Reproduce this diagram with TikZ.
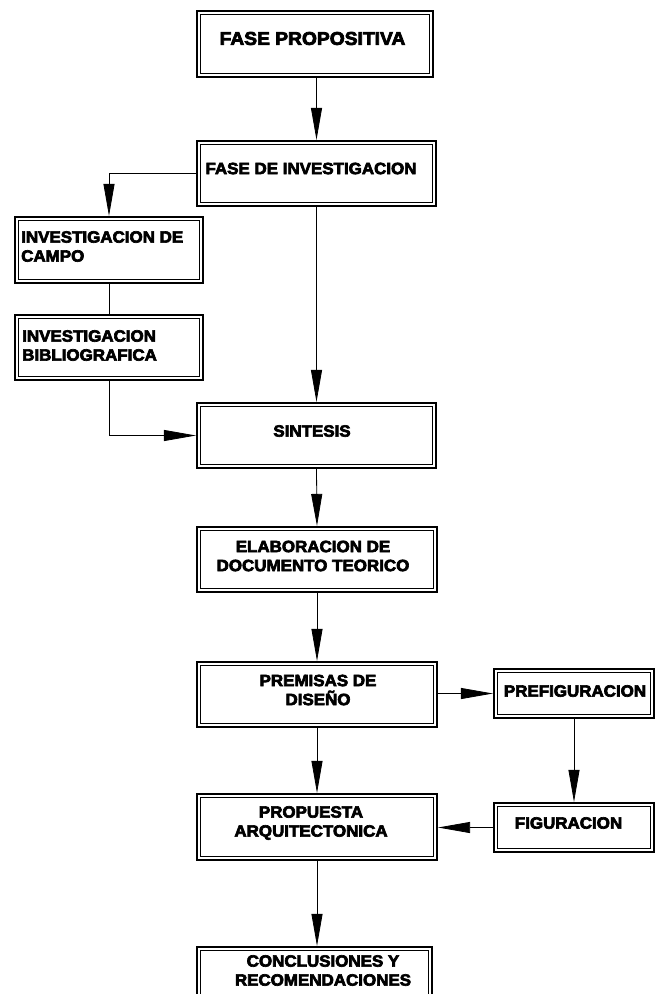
\documentclass[tikz,border=0pt]{standalone}
\usepackage{fontspec}
\setmainfont{Liberation Sans}[BoldFeatures={FakeBold=4}, FakeStretch=1.04]
\usetikzlibrary{arrows.meta,calc}
\tikzset{
  box/.style={draw, line width=1.1pt, inner sep=0pt},
  innerline/.style={line width=0.9pt},
  lbl/.style={font=\bfseries\fontsize{16.3}{19}\selectfont, inner sep=0pt},
  conn/.style={line width=0.8pt},
  arr/.style={conn, -{Triangle[length=32pt,width=11pt]}, shorten >=0.5pt}
}
\newcommand{\dblbox}[1]{\draw[innerline] ($(#1.south west)+(4,-4)$) rectangle ($(#1.north east)+(-4,4)$);}
\begin{document}
\begin{tikzpicture}[x=1pt,y=-1pt]
\useasboundingbox (0,0) rectangle (659,994);
% boxes
\node[box, minimum width=236pt, minimum height=66pt] (fp) at (315,44) {};
\node[box, minimum width=239pt, minimum height=65pt] (fdi) at (316.5,173.5) {};
\node[box, minimum width=188pt, minimum height=66pt] (campo) at (109,250) {};
\node[box, minimum width=188pt, minimum height=65pt] (biblio) at (109,347.5) {};
\node[box, minimum width=239pt, minimum height=65pt] (sint) at (316.5,435.5) {};
\node[box, minimum width=240pt, minimum height=65pt] (elab) at (317,559.5) {};
\node[box, minimum width=240pt, minimum height=65pt] (prem) at (317,694.5) {};
\node[box, minimum width=160pt, minimum height=49pt] (pref) at (574,693.5) {};
\node[box, minimum width=160pt, minimum height=49pt] (fig) at (574,827.5) {};
\node[box, minimum width=240pt, minimum height=66pt] (prop) at (317,827) {};
\node[box, minimum width=235pt, minimum height=66pt] (conc) at (314.5,980) {};
\foreach \n in {fp,fdi,campo,biblio,sint,elab,prem,pref,fig,prop,conc}{\dblbox{\n}}
% labels
\node[lbl, font=\bfseries\fontsize{18.5}{22}\selectfont] (tfp) at (312.5,38.5) {FASE PROPOSITIVA};
\node[lbl] (tfdi) at (311,168.5) {FASE DE INVESTIGACION};
\node[lbl, align=left, anchor=west] (tcampo) at (21,246.5) {INVESTIGACION DE\\CAMPO};
\node[lbl, align=left, anchor=west] (tbiblio) at (22,345.5) {INVESTIGACION\\BIBLIOGRAFICA};
\node[lbl] (tsint) at (312,431) {SINTESIS};
\node[lbl, align=center] (telab) at (313,556) {ELABORACION DE\\DOCUMENTO TEORICO};
\node[lbl, align=center] (tprem) at (318,690) {PREMISAS DE\\DISEÑO};
\node[lbl] (tpref) at (575,691) {PREFIGURACION};
\node[lbl] (tfig) at (568.5,823) {FIGURACION};
\node[lbl, align=center] (tprop) at (311,823) {PROPUESTA\\ARQUITECTONICA};
\node[lbl, align=center] (tconc) at (323,970.5) {CONCLUSIONES Y\\RECOMENDACIONES};
% connectors
\draw[arr] (fdi.north |- fp.south) -- (fdi.north);
\draw[arr] (fdi.west) -| (campo.north);
\draw[conn] (campo.south) -- (biblio.north);
\draw[arr] (biblio.south) |- (sint.west);
\draw[arr] (fdi.south) -- (sint.north);
\draw[arr] (sint.south) -- (elab.north);
\draw[arr] (elab.south) -- (prem.north);
\draw[arr] (prem.east |- pref.west) -- (pref.west);
\draw[arr] (pref.south) -- (fig.north);
\draw[arr] (fig.west) -- (prop.east |- fig.west);
\draw[arr] (prem.south) -- (prop.north);
\draw[arr] (prop.south) -- (prop.south |- conc.north);
\end{tikzpicture}
\end{document}
